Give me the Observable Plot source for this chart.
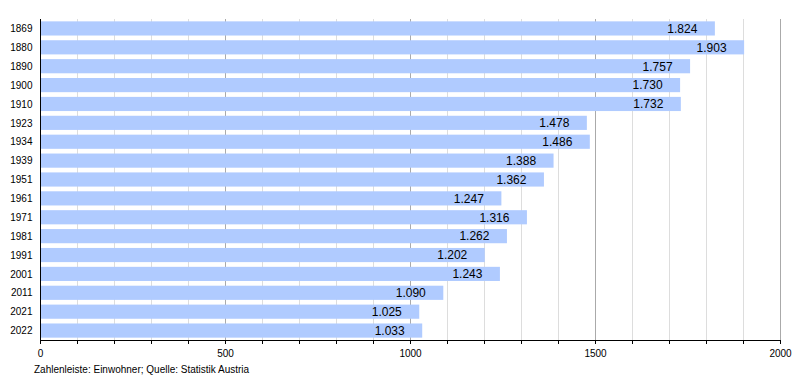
<!DOCTYPE html>
<html>
<head>
<meta charset="utf-8">
<script src="https://cdn.jsdelivr.net/npm/d3@7"></script>
<script src="https://cdn.jsdelivr.net/npm/@observablehq/plot@0.6"></script>
<style>
  body { margin: 0; background: #fff; font-family: "Liberation Sans", Arial, sans-serif; }
  #caption { font-size: 10px; line-height: 12px; color: #000; margin-left: 34px; margin-top: 2px; }
</style>
</head>
<body>
<div id="chart"></div>
<div id="caption">Zahlenleiste: Einwohner; Quelle: Statistik Austria</div>
<script>
const years = ["1869","1880","1890","1900","1910","1923","1934","1939","1951","1961","1971","1981","1991","2001","2011","2021","2022"];
const population = [1824,1903,1757,1730,1732,1478,1486,1388,1362,1247,1316,1262,1202,1243,1090,1025,1033];
const majorTicks = [0,500,1000,1500,2000];
const minorTicks = [100,200,300,400,600,700,800,900,1100,1200,1300,1400,1600,1700,1800,1900];

const data = years.map((y, i) => ({year: y, value: population[i]}));
const de = d3.formatLocale({decimal: ",", thousands: ".", grouping: [3], currency: ["", " €"]});
const fmt = de.format(",");

const chart = Plot.plot({
  width: 800,
  height: 362,
  marginLeft: 40,
  marginRight: 20,
  marginTop: 19,
  marginBottom: 22,
  style: {fontFamily: '"Liberation Sans", Arial, sans-serif', fontSize: "10px", color: "#000", background: "#fff"},
  x: {domain: [0, 2000], label: null},
  y: {domain: years, paddingInner: 0.25, paddingOuter: 0.125, round: false, label: null},
  marks: [
    Plot.ruleX(minorTicks, {stroke: "#dddddd", strokeWidth: 1}),
    Plot.ruleX(majorTicks.slice(1), {stroke: "#aaaaaa", strokeWidth: 1}),
    Plot.barX(data, {x: "value", y: "year", fill: "#b0cbff"}),
    Plot.text(data, {x: "value", y: "year", text: d => fmt(d.value), textAnchor: "end", dx: -18, fontSize: 12, fill: "#000"}),
    Plot.ruleX([0], {stroke: "#000", strokeWidth: 1}),
    Plot.frame({anchor: "bottom", stroke: "#000"}),
    Plot.axisX({ticks: majorTicks, tickSize: 4, tickPadding: 5, tickFormat: d => String(d), fontSize: 10, label: null}),
    Plot.axisX({ticks: minorTicks, tickSize: 4, tickFormat: () => "", label: null}),
    Plot.axisY({tickSize: 0, tickPadding: 8, fontSize: 10, label: null})
  ]
});
document.getElementById("chart").appendChild(chart);
</script>
</body>
</html>
